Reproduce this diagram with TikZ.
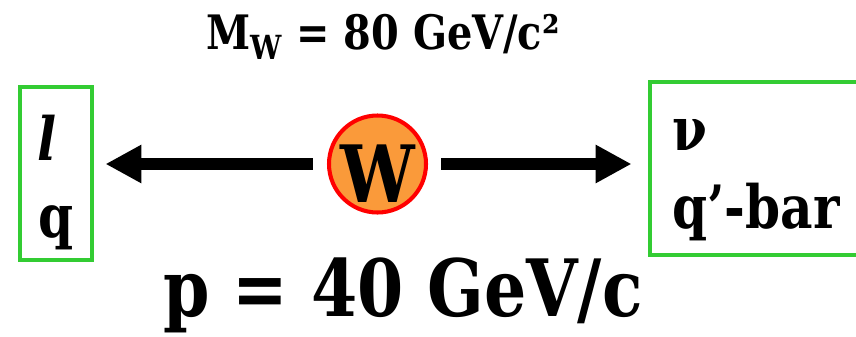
\documentclass[tikz,border=0pt]{standalone}
\usepackage{fontspec}
\setmainfont{DejaVu Serif}[FakeStretch=0.84]
\usetikzlibrary{arrows.meta,positioning}
\definecolor{cgreen}{RGB}{51,204,51}
\definecolor{cred}{RGB}{255,0,0}
\definecolor{corange}{RGB}{250,154,58}
\tikzset{
  pbox/.style={rectangle,draw=cgreen,line width=2.8pt,minimum height=3.46cm,
    inner sep=0pt},
  ptext/.style={anchor=base west,inner sep=0pt,font=\fontsize{34}{40}\selectfont\bfseries},
  wball/.style={circle,draw=cred,fill=corange,line width=2.3pt,
    minimum size=1.94cm,inner sep=0pt},
  arr/.style={-{Triangle[length=7.2mm,width=7.2mm]},line width=6.3pt},
  bigtext/.style={font=\fontsize{45}{54}\selectfont\bfseries},
  midtext/.style={font=\fontsize{27}{33}\selectfont\bfseries}
}

\begin{document}
\begin{tikzpicture}
  \useasboundingbox (0,0) rectangle (17.12,6.72);
  \clip (0,0) rectangle (17.12,6.72);
  % decay products on either side
  \node[pbox,minimum width=1.44cm] (lbox) at (1.12,3.25) {};
  \node[ptext] (lep) at (0.74,3.52) {\textit{l}};
  \node[ptext] (quark) at (0.76,1.98) {q};
  \node[pbox,minimum width=4.5cm] (rbox) at (15.25,3.35) {};
  \node[ptext] (nu) at (13.44,3.72) {ν};
  \node[ptext] (qbar) at (13.44,2.16) {q’-bar};
  % the W at rest
  \node[wball] (W) at (7.55,3.44) {};
  \node[bigtext] (wlab) at ([yshift=-0.2cm]W.center) {W};
  \draw[arr,shorten <=0.28cm,shorten >=0.22cm] (W.west) -- (W.west -| lbox.east);
  \draw[arr,shorten <=0.26cm,shorten >=0.32cm] (W.east) -- (W.east -| rbox.west);
  \node[midtext,anchor=base] (mass) at (7.66,5.72) {M\textsubscript{W} = 80 GeV/c²};
  \node[bigtext,anchor=base] (mom) at (8.06,0.40) {p = 40 GeV/c};
\end{tikzpicture}
\end{document}
